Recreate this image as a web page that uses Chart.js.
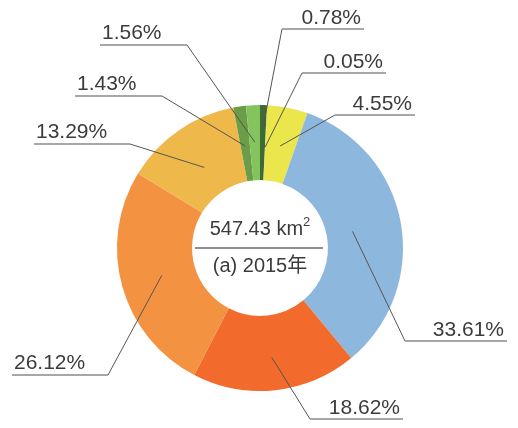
<!DOCTYPE html>
<html lang="zh">
<head>
<meta charset="UTF-8">
<title>2015</title>
<script src="https://cdn.jsdelivr.net/npm/chart.js"></script>
<style>
  body { margin: 0; background: #fff; }
  canvas { display: block; }
</style>
</head>
<body>
<canvas id="ringChart" width="518" height="428"></canvas>
<script>
// 2015 land share, clockwise from 12 o'clock
const shares = [0.78, 0.05, 4.55, 33.61, 18.62, 26.12, 13.29, 1.43, 1.56];
const colors = ['#3f6a33', '#9fcf6a', '#ebe64b', '#8db7dc', '#f26a2c', '#f39241', '#eeb84b', '#6b9c47', '#84c45c'];
const totalArea = '547.43 km';
const yearLabel = '(a) 2015年';

// label placement: anchor radius, underline y, underline from/to x, elbow at which end
const anchorR = [120, 101, 104, 94, 110, 102, 98, 103, 106];
const lineY   = [29, 73, 115, 341, 419, 375, 144, 96, 45];
const lineX0  = [282, 302, 335, 405, 310, 12, 34, 75, 100];
const lineX1  = [364, 386, 415, 507, 403, 108, 130, 162, 187];
const elbowAtStart = [true, true, true, true, true, false, false, false, false];

const labelPlugin = {
  id: 'labels',
  afterDraw(chart) {
    const ctx = chart.ctx;
    const arcs = chart.getDatasetMeta(0).data;
    ctx.save();
    arcs.forEach((arc, i) => {
      const mid = (arc.startAngle + arc.endAngle) / 2;
      const ax = arc.x + Math.cos(mid) * anchorR[i];
      const ay = arc.y + Math.sin(mid) * anchorR[i];
      const ex = elbowAtStart[i] ? lineX0[i] : lineX1[i];
      ctx.strokeStyle = '#555';
      ctx.lineWidth = 1;
      ctx.beginPath();
      ctx.moveTo(ax, ay);
      ctx.lineTo(ex, lineY[i]);
      ctx.stroke();
      ctx.strokeStyle = '#8a8a8a';
      ctx.lineWidth = 1.6;
      ctx.beginPath();
      ctx.moveTo(lineX0[i], lineY[i]);
      ctx.lineTo(lineX1[i], lineY[i]);
      ctx.stroke();
      ctx.fillStyle = '#3c3c3c';
      ctx.font = '21px "Liberation Sans", Arial, sans-serif';
      ctx.textBaseline = 'alphabetic';
      const txt = shares[i].toFixed(2) + '%';
      if (elbowAtStart[i]) {
        ctx.textAlign = 'right';
        ctx.fillText(txt, lineX1[i] - 3, lineY[i] - 5);
      } else {
        ctx.textAlign = 'left';
        ctx.fillText(txt, lineX0[i] + 2, lineY[i] - 6);
      }
    });

    // centre text
    const cx = arcs[0].x, cy = arcs[0].y;
    ctx.fillStyle = '#3c3c3c';
    ctx.font = '20px "Liberation Sans", Arial, sans-serif';
    ctx.textAlign = 'left';
    const w = ctx.measureText(totalArea).width;
    ctx.font = '13px "Liberation Sans", Arial, sans-serif';
    const w2 = ctx.measureText('2').width;
    const sx = cx - (w + w2) / 2;
    ctx.font = '20px "Liberation Sans", Arial, sans-serif';
    ctx.fillText(totalArea, sx, cy - 13);
    ctx.font = '13px "Liberation Sans", Arial, sans-serif';
    ctx.fillText('2', sx + w, cy - 22);
    ctx.strokeStyle = '#6a6a6a';
    ctx.lineWidth = 1.5;
    ctx.beginPath();
    ctx.moveTo(cx - 65, cy);
    ctx.lineTo(cx + 63, cy);
    ctx.stroke();
    ctx.font = '20px "Liberation Sans", "Noto Sans CJK SC", sans-serif';
    ctx.textAlign = 'center';
    ctx.fillText(yearLabel, cx, cy + 24);
    ctx.restore();
  }
};

new Chart(document.getElementById('ringChart'), {
  type: 'doughnut',
  data: {
    labels: shares.map(v => v.toFixed(2) + '%'),
    datasets: [{
      data: shares,
      backgroundColor: colors,
      borderWidth: 0
    }]
  },
  options: {
    responsive: false,
    animation: false,
    devicePixelRatio: 1,
    cutout: '47.5%',
    layout: { padding: { left: 117, right: 115, top: 105, bottom: 37 } },
    plugins: {
      legend: { display: false },
      tooltip: { enabled: false }
    }
  },
  plugins: [labelPlugin]
});
</script>
</body>
</html>
